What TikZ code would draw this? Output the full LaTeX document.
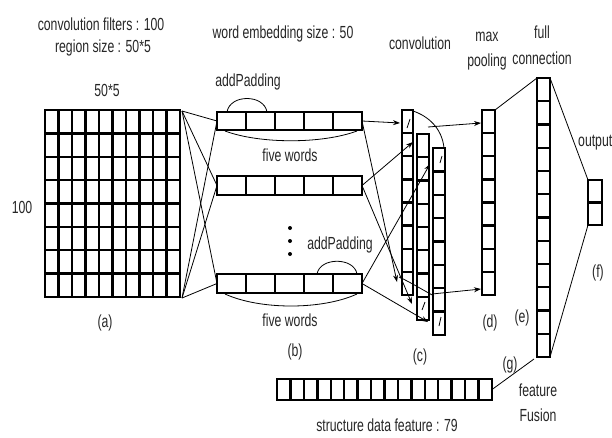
\documentclass[tikz,border=0pt]{standalone}
\usepackage{fontspec}
\setmainfont{Liberation Sans}
\usetikzlibrary{calc,arrows.meta}
\newcommand\nt[1]{\scalebox{0.7}[1]{#1}}
\tikzset{
  arr/.style={draw=black, line width=2.4pt, inner sep=0pt, outer sep=0pt, anchor=north west},
  sep/.style={line width=2.4pt},
  thinln/.style={line width=0.8pt},
  arrowln/.style={line width=0.8pt, -{Stealth[length=7pt,width=5pt]}},
  lbl/.style={inner sep=0pt, font=\fontsize{17.5}{20}\selectfont, text=black!85},
}
\newcommand\colsplit[3]{\foreach \i in {1,...,#3}{\draw[sep] ($(#1.north west)!\i/#2!(#1.north east)$) -- ($(#1.south west)!\i/#2!(#1.south east)$);}}
\newcommand\rowsplit[3]{\foreach \i in {1,...,#3}{\draw[sep] ($(#1.north west)!\i/#2!(#1.south west)$) -- ($(#1.north east)!\i/#2!(#1.south east)$);}}
\begin{document}
\begin{tikzpicture}[x=1pt,y=-1pt]
\path[use as bounding box] (0,0) rectangle (612,437);
\clip (0,0) rectangle (612,437);
% (a) filter grid
\node[arr, minimum width=135pt, minimum height=187pt] (a) at (45,110) {};
\colsplit{a}{10}{9}
\rowsplit{a}{8}{7}
% (b) word rows
\node[arr, minimum width=145pt, minimum height=18pt] (b1) at (217,112) {};
\node[arr, minimum width=145pt, minimum height=19pt] (b2) at (217,176) {};
\node[arr, minimum width=145pt, minimum height=19pt] (b3) at (217,274) {};
\colsplit{b1}{5}{4}
\colsplit{b2}{5}{4}
\colsplit{b3}{5}{4}
% (c) convolution columns
\node[arr, minimum width=11pt, minimum height=185pt] (c1) at (402,110) {};
\node[arr, minimum width=12pt, minimum height=186pt] (c2) at (417,134) {};
\node[arr, minimum width=12pt, minimum height=187pt] (c3) at (433,148) {};
\rowsplit{c1}{8}{7}
\rowsplit{c2}{8}{7}
\rowsplit{c3}{8}{7}
% (d) max pooling
\node[arr, minimum width=13pt, minimum height=185pt] (d) at (482,110) {};
\rowsplit{d}{8}{7}
% (e) full connection
\node[arr, minimum width=13pt, minimum height=279pt] (e) at (537,78) {};
\rowsplit{e}{12}{11}
% (f) output
\node[arr, minimum width=14pt, minimum height=45pt] (f) at (588,180) {};
\rowsplit{f}{2}{1}
% (g) structure data feature
\node[arr, minimum width=215pt, minimum height=21pt] (g) at (277,379) {};
\colsplit{g}{16}{15}
% fan (a) -> (b)
\coordinate (atop) at (182,111);
\coordinate (abot) at (182,298);
\foreach \r in {b1,b2,b3}{
  \draw[thinln] (atop) -- (\r.west);
  \draw[thinln] (abot) -- (\r.west);
}
% arrows (b) -> (c)
\coordinate (t1) at (400,123);
\coordinate (u1) at (397,282);
\coordinate (t2) at (413,142);
\coordinate (u2) at (412,304);
\coordinate (t3) at (430,164);
\coordinate (u3) at (428,322);
\draw[arrowln] (b1.east) -- (t1);
\draw[arrowln] (b1.east) -- (u1);
\draw[arrowln] (b2.east) -- (t2);
\draw[arrowln] (b2.east) -- (u2);
\draw[arrowln] (b3.east) -- (t3);
\draw[arrowln] (b3.east) -- (u3);
% small marks in convolution cells
\coordinate (m1a) at (407,128); \coordinate (m1b) at (410,119);
\coordinate (m3a) at (440,163); \coordinate (m3b) at (442,156);
\coordinate (m4a) at (422,310); \coordinate (m4b) at (425,302);
\coordinate (m5a) at (439,326); \coordinate (m5b) at (441,317);
\draw[thinln] (m1a) -- (m1b);
\draw[thinln] (m3a) -- (m3b);
\draw[thinln] (m4a) -- (m4b);
\draw[thinln] (m5a) -- (m5b);
% conv -> max pooling
\coordinate (ctop1) at (413,111);
\coordinate (ctop2) at (444,148);
\draw[thinln] (ctop1) .. controls (428,116) and (442,128) .. (ctop2);
\coordinate (cb1) at (399,277);
\coordinate (cb2) at (434,296);
\draw[thinln] (cb1) .. controls (410,282) and (423,290) .. (cb2);
\coordinate (p1) at (428,127);
\coordinate (dtop) at (481,123);
\coordinate (p2) at (432,294);
\coordinate (dbot) at (481,289);
\draw[arrowln] (p1) -- (dtop);
\draw[arrowln] (p2) -- (dbot);
% max pooling -> full connection -> output
\draw[thinln] (d.north east) -- (e.north west);
\draw[thinln] (e.north east) -- (f.north west);
\draw[thinln] (e.south east) -- (f.south west);
\coordinate (ein) at (534,359);
\draw[thinln] (g.east) -- (ein);
% padding arcs and braces
\coordinate (pa1) at (227,112); \coordinate (pa2) at (267,112);
\draw[thinln] (pa1) .. controls (230,94) and (264,94) .. (pa2);
\coordinate (br1) at (225,131); \coordinate (br2) at (357,131);
\draw[thinln] (br1) .. controls (260,144) and (322,144) .. (br2);
\coordinate (pb1) at (317,274); \coordinate (pb2) at (357,274);
\draw[thinln] (pb1) .. controls (320,257) and (354,257) .. (pb2);
\coordinate (bs1) at (225,294); \coordinate (bs2) at (357,294);
\draw[thinln] (bs1) .. controls (260,310) and (322,310) .. (bs2);
% dots
\fill (290,228) circle (2pt);
\fill (290,241) circle (2pt);
\fill (290,254) circle (2pt);
% labels
\node[lbl] (l1) at (101,24) {\nt{convolution filters : 100}};
\node[lbl] (l2) at (103,48) {\nt{region size : 50*5}};
\node[lbl] (l3) at (107,90) {\nt{50*5}};
\node[lbl] (l4) at (22,207) {\nt{100}};
\node[lbl] (l5) at (105,323) {\nt{(a)}};
\node[lbl] (l6) at (283,34) {\nt{word embedding size : 50}};
\node[lbl] (l7) at (248,82) {\nt{addPadding}};
\node[lbl] (l8) at (290,155) {\nt{five words}};
\node[lbl] (l9) at (340,245) {\nt{addPadding}};
\node[lbl] (l10) at (290,320) {\nt{five words}};
\node[lbl] (l11) at (295,352) {\nt{(b)}};
\node[lbl] (l12) at (420,43) {\nt{convolution}};
\node[lbl] (l13) at (487,37) {\nt{max}};
\node[lbl] (l14) at (487,62) {\nt{pooling}};
\node[lbl] (l15) at (542,32) {\nt{full}};
\node[lbl] (l16) at (542,58) {\nt{connection}};
\node[lbl, anchor=west] (l17) at (578,143) {\nt{output}};
\node[lbl] (l18) at (420,357) {\nt{(c)}};
\node[lbl] (l19) at (490,323) {\nt{(d)}};
\node[lbl] (l20) at (522,318) {\nt{(e)}};
\node[lbl] (l21) at (598,273) {\nt{(f)}};
\node[lbl] (l22) at (510,365) {\nt{(g)}};
\node[lbl] (l23) at (538,390) {\nt{feature}};
\node[lbl] (l24) at (538,415) {\nt{Fusion}};
\node[lbl] (l25) at (387,425) {\nt{structure data feature : 79}};
\end{tikzpicture}
\end{document}
